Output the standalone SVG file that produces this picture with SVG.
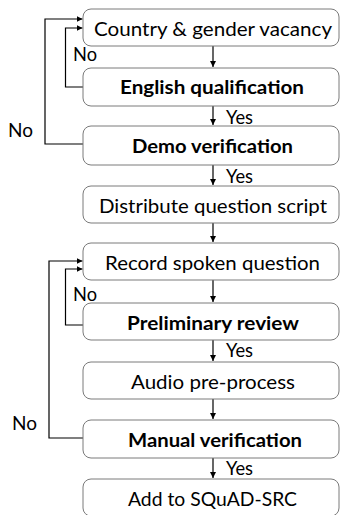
<svg xmlns="http://www.w3.org/2000/svg" width="341" height="515" viewBox="0 0 341 515">
<style>
.box{fill:#fff;stroke:#7a7a7a;stroke-width:1}
.t{font-family:Lato,"Liberation Sans",sans-serif;font-size:19px;fill:#000;text-anchor:middle}
.b{font-weight:bold}
.l{font-family:Lato,"Liberation Sans",sans-serif;font-size:19px;fill:#000}
.c{fill:none;stroke:#000;stroke-width:1.2}
</style>
<defs>
<marker id="ah" markerWidth="6" markerHeight="6" refX="6" refY="3" orient="auto" markerUnits="userSpaceOnUse">
<path d="M0,0 L6,3 L0,6 Z" fill="#000"/>
</marker>
</defs>
<rect width="341" height="515" fill="#fff"/>
<g id="connectors">
<path class="c" d="M213,46 V67" marker-end="url(#ah)"/>
<path class="c" d="M213,106 V125" marker-end="url(#ah)"/>
<path class="c" d="M213,165 V185" marker-end="url(#ah)"/>
<path class="c" d="M213,223 V242" marker-end="url(#ah)"/>
<path class="c" d="M213,280 V302" marker-end="url(#ah)"/>
<path class="c" d="M213,340 V361" marker-end="url(#ah)"/>
<path class="c" d="M213,399 V419" marker-end="url(#ah)"/>
<path class="c" d="M213,458 V478" marker-end="url(#ah)"/>
<path class="c" d="M83,87 H65.5 V28 H82.5" marker-end="url(#ah)"/>
<path class="c" d="M83,144 H45 V19 H82.5" marker-end="url(#ah)"/>
<path class="c" d="M83,325 H65.5 V269 H82.5" marker-end="url(#ah)"/>
<path class="c" d="M83,438 H49 V261 H82.5" marker-end="url(#ah)"/>
<text class="l" x="73" y="61" textLength="24" lengthAdjust="spacingAndGlyphs">No</text>
<text class="l" x="8" y="137" textLength="25" lengthAdjust="spacingAndGlyphs">No</text>
<text class="l" x="73" y="301" textLength="24" lengthAdjust="spacingAndGlyphs">No</text>
<text class="l" x="12" y="430" textLength="25" lengthAdjust="spacingAndGlyphs">No</text>
<text class="l" x="226" y="124" textLength="27" lengthAdjust="spacingAndGlyphs">Yes</text>
<text class="l" x="226" y="183" textLength="27" lengthAdjust="spacingAndGlyphs">Yes</text>
<text class="l" x="226" y="357" textLength="27" lengthAdjust="spacingAndGlyphs">Yes</text>
<text class="l" x="226" y="475" textLength="27" lengthAdjust="spacingAndGlyphs">Yes</text>
</g>
<g id="n1"><rect class="box" x="83" y="9" width="256" height="37" rx="8"/><text class="t" x="213" y="36" textLength="238" lengthAdjust="spacingAndGlyphs">Country &amp; gender vacancy</text></g>
<g id="n2"><rect class="box" x="83" y="68" width="256" height="38" rx="8"/><text class="t b" x="212" y="94" textLength="184" lengthAdjust="spacingAndGlyphs">English qualification</text></g>
<g id="n3"><rect class="box" x="83" y="126" width="256" height="39" rx="8"/><text class="t b" x="212.5" y="153" textLength="161" lengthAdjust="spacingAndGlyphs">Demo verification</text></g>
<g id="n4"><rect class="box" x="83" y="186" width="256" height="37" rx="8"/><text class="t" x="213" y="213" textLength="228" lengthAdjust="spacingAndGlyphs">Distribute question script</text></g>
<g id="n5"><rect class="box" x="83" y="243" width="256" height="37" rx="8"/><text class="t" x="212.5" y="270" textLength="215" lengthAdjust="spacingAndGlyphs">Record spoken question</text></g>
<g id="n6"><rect class="box" x="83" y="303" width="256" height="37" rx="8"/><text class="t b" x="213" y="330" textLength="172" lengthAdjust="spacingAndGlyphs">Preliminary review</text></g>
<g id="n7"><rect class="box" x="83" y="362" width="256" height="37" rx="8"/><text class="t" x="213" y="389" textLength="164" lengthAdjust="spacingAndGlyphs">Audio pre-process</text></g>
<g id="n8"><rect class="box" x="83" y="420" width="256" height="38" rx="8"/><text class="t b" x="215" y="447" textLength="174" lengthAdjust="spacingAndGlyphs">Manual verification</text></g>
<g id="n9"><rect class="box" x="83" y="479" width="256" height="37" rx="8"/><text class="t" x="212.5" y="506" textLength="169" lengthAdjust="spacingAndGlyphs">Add to SQuAD-SRC</text></g>
</svg>
